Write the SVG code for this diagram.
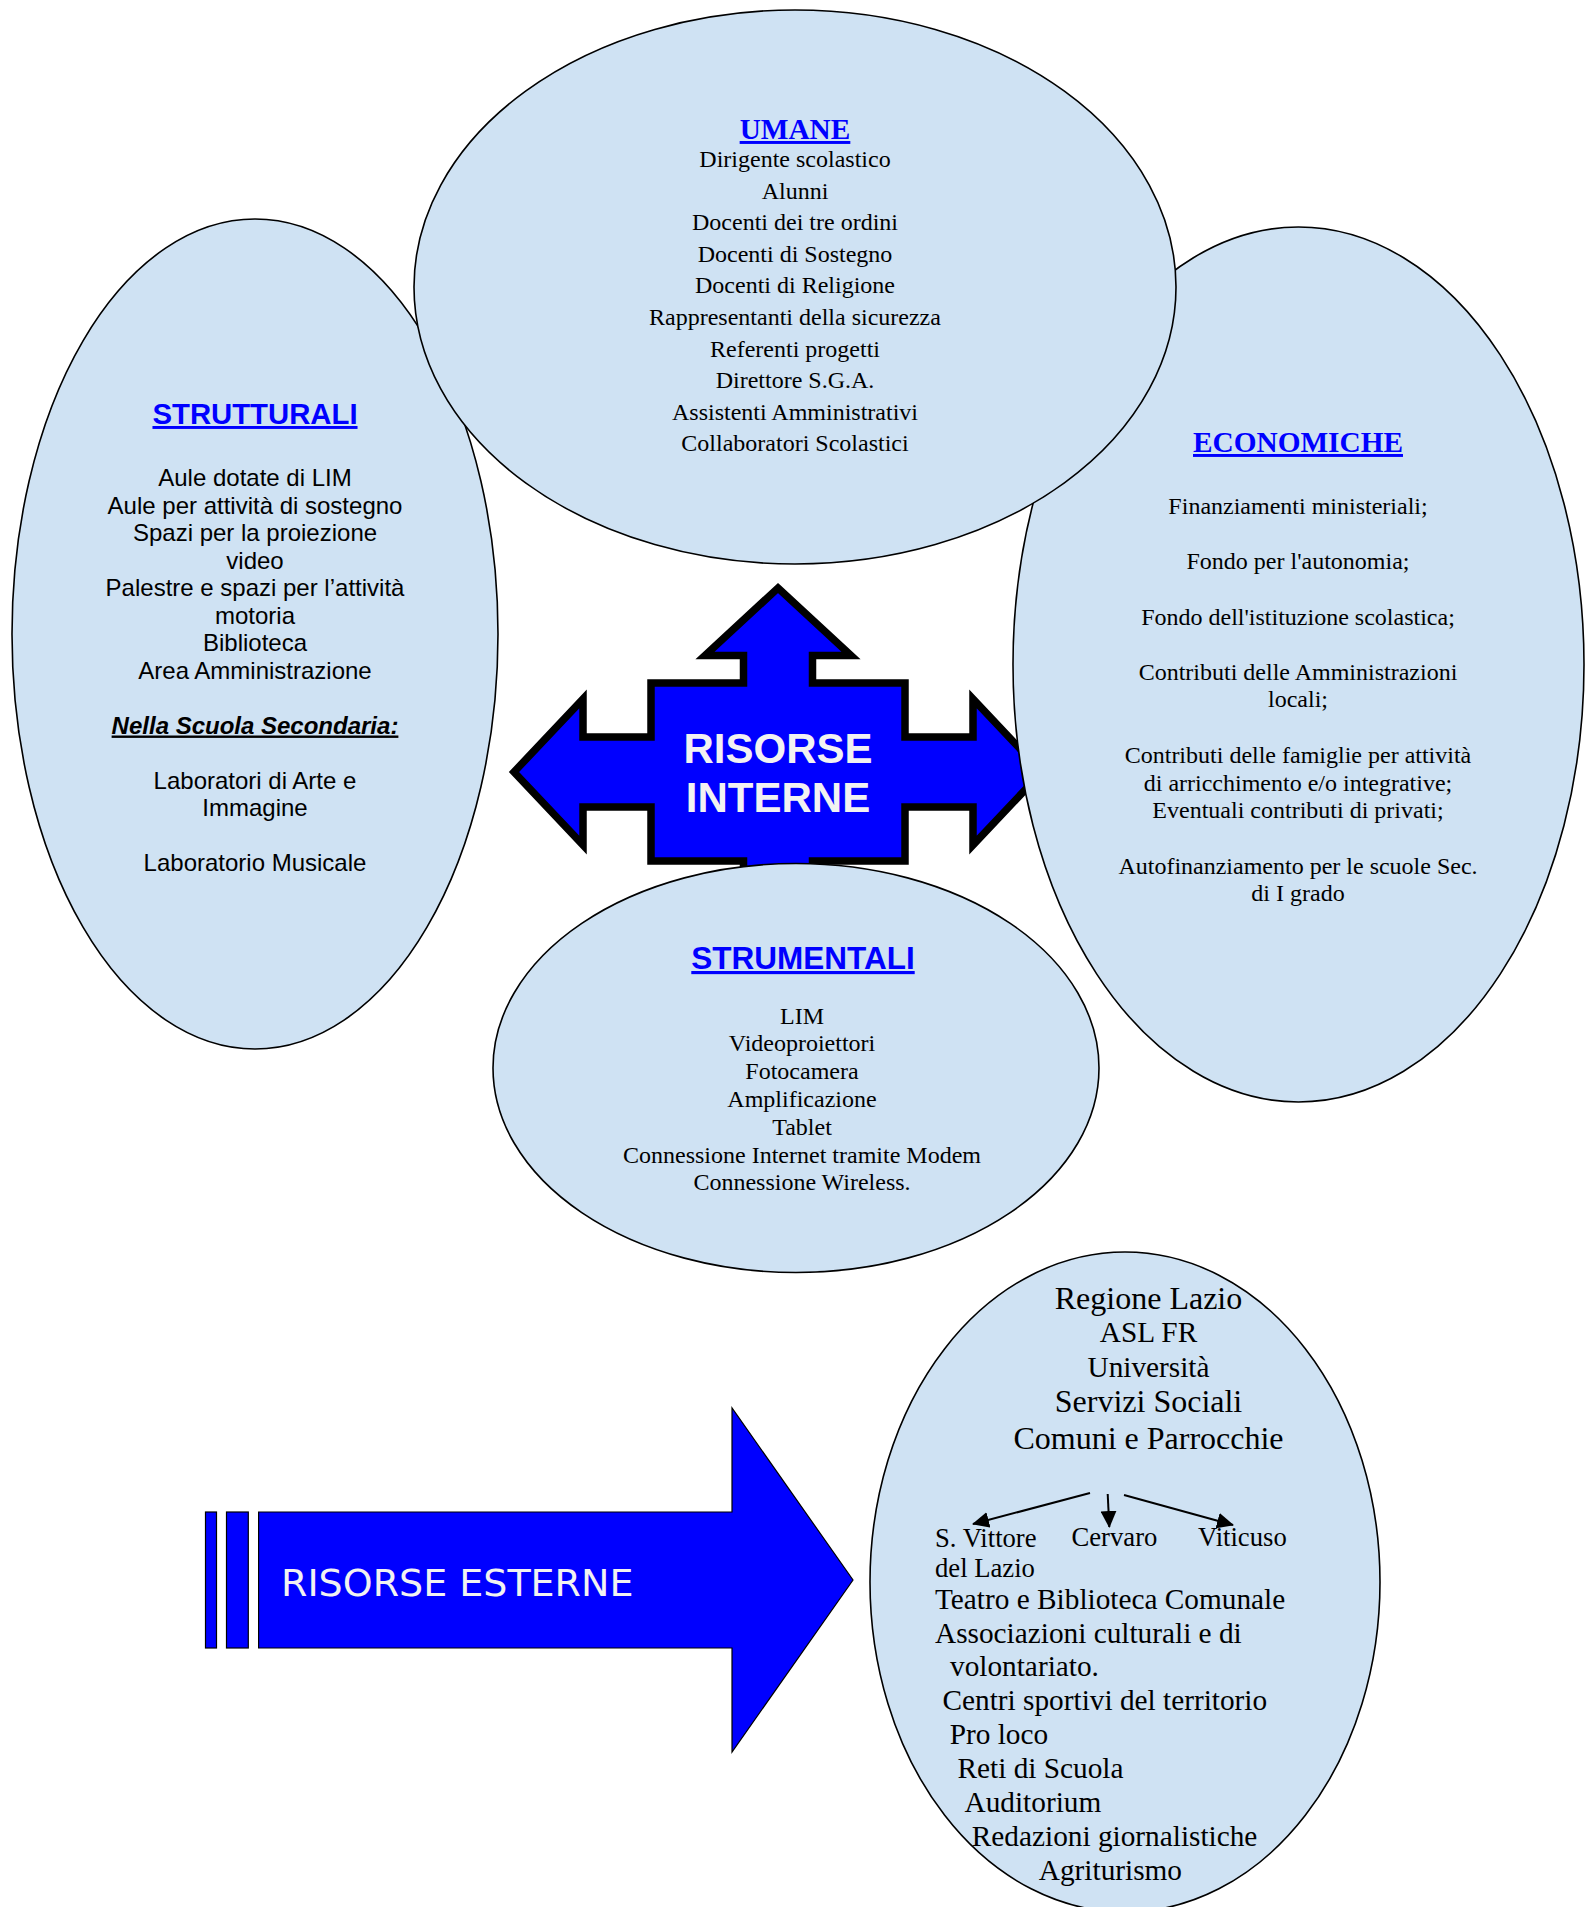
<svg xmlns="http://www.w3.org/2000/svg" width="1588" height="1907" viewBox="0 0 1588 1907">
  <style>
    .oval { fill: #CFE2F3; stroke: #000; stroke-width: 1.6; }
    .serif { font-family: "Liberation Serif", "Times New Roman", serif; fill: #000; }
    .sans { font-family: "Liberation Sans", Arial, sans-serif; fill: #000; }
    .t24 { font-size: 24px; }
    .head { font-weight: bold; fill: #0000FF; text-decoration: underline; }
    .mid { text-anchor: middle; }
    .conn { stroke: #000; stroke-width: 2; fill: none; }
  </style>
  <defs>
    <marker id="tip" viewBox="0 0 17 16" refX="16" refY="8" markerWidth="17" markerHeight="16" markerUnits="userSpaceOnUse" orient="auto">
      <path d="M0,0 L17,8 L0,16 Z" fill="#000"/>
    </marker>
  </defs>

  <rect width="1588" height="1907" fill="#fff"/>

  <!-- central four-way arrow -->
  <g id="risorse-interne">
    <path d="M778,588 L851,655.5 L812.5,655.5 L812.5,683 L905,683 L905,737 L973,737 L973,699 L1042,772 L973,845 L973,807 L905,807 L905,861 L812.5,861 L812.5,888.5 L851,888.5 L778,956 L705,888.5 L743.5,888.5 L743.5,861 L651,861 L651,807 L583,807 L583,845 L514,772 L583,699 L583,737 L651,737 L651,683 L743.5,683 L743.5,655.5 L705,655.5 Z" fill="#0000FF" stroke="#000" stroke-width="7.5" stroke-linejoin="miter"/>
    <text class="sans mid" x="778" y="763" font-size="42" font-weight="bold" fill="#F2F2F2" style="fill:#F2F2F2">RISORSE</text>
    <text class="sans mid" x="778" y="812" font-size="42" font-weight="bold" style="fill:#F2F2F2">INTERNE</text>
  </g>

  <!-- STRUTTURALI -->
  <g id="strutturali">
    <ellipse class="oval" cx="255" cy="634" rx="243" ry="415"/>
    <text class="sans mid head" x="255" y="424" font-size="29.3">STRUTTURALI</text>
    <g class="sans mid t24">
      <text x="255" y="486">Aule dotate di LIM</text>
      <text x="255" y="513.5">Aule per attività di sostegno</text>
      <text x="255" y="541">Spazi per la proiezione</text>
      <text x="255" y="568.5">video</text>
      <text x="255" y="596">Palestre e spazi per l’attività</text>
      <text x="255" y="623.5">motoria</text>
      <text x="255" y="651">Biblioteca</text>
      <text x="255" y="678.5">Area Amministrazione</text>
      <text x="255" y="733.5" font-weight="bold" font-style="italic" text-decoration="underline">Nella Scuola Secondaria:</text>
      <text x="255" y="788.5">Laboratori di Arte e</text>
      <text x="255" y="816">Immagine</text>
      <text x="255" y="871">Laboratorio Musicale</text>
    </g>
  </g>

  <!-- ECONOMICHE -->
  <g id="economiche">
    <ellipse class="oval" cx="1298.5" cy="664.5" rx="285.5" ry="437.5"/>
    <text class="serif mid head" x="1298" y="452" font-size="29.3">ECONOMICHE</text>
    <g class="serif mid t24">
      <text x="1298" y="514">Finanziamenti ministeriali;</text>
      <text x="1298" y="569">Fondo per l'autonomia;</text>
      <text x="1298" y="624.5">Fondo dell'istituzione scolastica;</text>
      <text x="1298" y="679.5">Contributi delle Amministrazioni</text>
      <text x="1298" y="707">locali;</text>
      <text x="1298" y="763">Contributi delle famiglie per attività</text>
      <text x="1298" y="790.5">di arricchimento e/o integrative;</text>
      <text x="1298" y="818">Eventuali contributi di privati;</text>
      <text x="1298" y="873.5">Autofinanziamento per le scuole Sec.</text>
      <text x="1298" y="901">di I grado</text>
    </g>
  </g>

  <!-- STRUMENTALI -->
  <g id="strumentali">
    <ellipse class="oval" cx="796" cy="1068" rx="303" ry="204.5"/>
    <text class="sans mid head" x="803" y="969" font-size="31.5">STRUMENTALI</text>
    <g class="serif mid t24">
      <text x="802" y="1023.5">LIM</text>
      <text x="802" y="1051.3">Videoproiettori</text>
      <text x="802" y="1079.1">Fotocamera</text>
      <text x="802" y="1106.9">Amplificazione</text>
      <text x="802" y="1134.7">Tablet</text>
      <text x="802" y="1162.5">Connessione Internet tramite Modem</text>
      <text x="802" y="1190.3">Connessione Wireless.</text>
    </g>
  </g>

  <!-- UMANE -->
  <g id="umane">
    <ellipse class="oval" cx="795" cy="287" rx="381" ry="277"/>
    <text class="serif mid head" x="795" y="139" font-size="29.3">UMANE</text>
    <g class="serif mid t24">
      <text x="795" y="167">Dirigente scolastico</text>
      <text x="795" y="198.6">Alunni</text>
      <text x="795" y="230.2">Docenti dei tre ordini</text>
      <text x="795" y="261.8">Docenti di Sostegno</text>
      <text x="795" y="293.4">Docenti di Religione</text>
      <text x="795" y="325">Rappresentanti della sicurezza</text>
      <text x="795" y="356.6">Referenti progetti</text>
      <text x="795" y="388.2">Direttore S.G.A.</text>
      <text x="795" y="419.8">Assistenti Amministrativi</text>
      <text x="795" y="451.4">Collaboratori Scolastici</text>
    </g>
  </g>

  <!-- striped block arrow -->
  <g id="risorse-esterne">
    <rect x="205.5" y="1512" width="11" height="136" fill="#0000FF" stroke="#000" stroke-width="1.2"/>
    <rect x="226.5" y="1512" width="21.8" height="136" fill="#0000FF" stroke="#000" stroke-width="1.2"/>
    <path d="M258.6,1512 L732,1512 L732,1408 L853,1580 L732,1752 L732,1648 L258.6,1648 Z" fill="#0000FF" stroke="#000" stroke-width="1.2"/>
    <text x="281" y="1596" font-family="'DejaVu Sans', Verdana, sans-serif" font-size="38" fill="#F2F2F2">RISORSE ESTERNE</text>
  </g>

  <!-- external partners -->
  <g id="esterne">
    <ellipse class="oval" cx="1125" cy="1582" rx="255" ry="330"/>
    <g class="serif mid">
      <text x="1148.5" y="1309" font-size="32">Regione Lazio</text>
      <text x="1148.5" y="1342" font-size="29.3">ASL FR</text>
      <text x="1148.5" y="1377" font-size="29.3">Università</text>
      <text x="1148.5" y="1412" font-size="32">Servizi Sociali</text>
      <text x="1148.5" y="1449" font-size="32">Comuni e Parrocchie</text>
    </g>
    <g class="serif" font-size="26.67">
      <text x="935" y="1547">S. Vittore</text>
      <text x="1071.5" y="1546">Cervaro</text>
      <text x="1198" y="1546">Viticuso</text>
      <text x="935" y="1577">del Lazio</text>
    </g>
    <g class="serif" font-size="29.3">
      <text x="935" y="1609">Teatro e Biblioteca Comunale</text>
      <text x="935" y="1642.5">Associazioni culturali e di</text>
      <text x="950" y="1676">volontariato.</text>
      <text x="942.5" y="1710">Centri sportivi del territorio</text>
      <text x="949.7" y="1744">Pro loco</text>
      <text x="957.5" y="1778">Reti di Scuola</text>
      <text x="964.5" y="1812">Auditorium</text>
      <text x="971.8" y="1846">Redazioni giornalistiche</text>
      <text x="1038.8" y="1880">Agriturismo</text>
    </g>
  </g>

  <!-- branch arrows towards the three municipalities -->
  <g id="connectors">
    <line class="conn" x1="1090" y1="1493" x2="973" y2="1524" marker-end="url(#tip)"/>
    <line class="conn" x1="1107.7" y1="1494" x2="1109.3" y2="1527" marker-end="url(#tip)"/>
    <line class="conn" x1="1124" y1="1495" x2="1233" y2="1525" marker-end="url(#tip)"/>
  </g>
</svg>
